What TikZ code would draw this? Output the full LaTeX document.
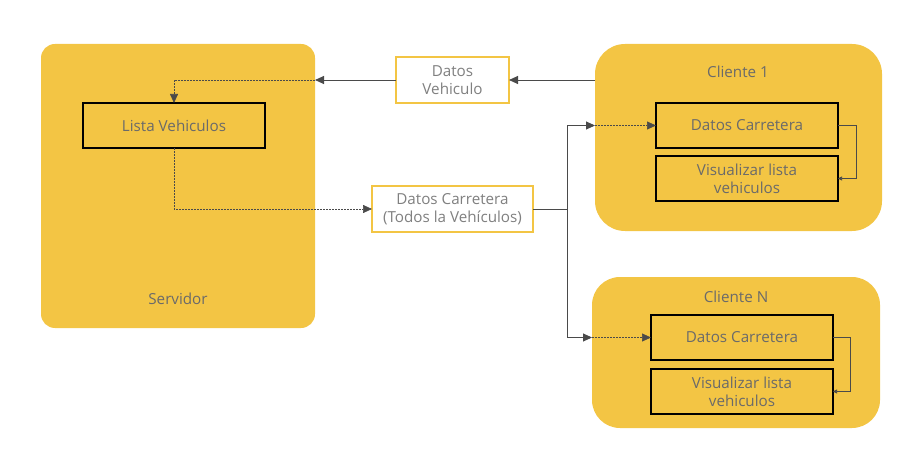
\documentclass[tikz,border=0pt]{standalone}
\usepackage{fontspec}
\setmainfont{Open Sans}
\usetikzlibrary{arrows.meta}
\definecolor{ybg}{HTML}{F3C544}
\definecolor{txt}{HTML}{6A6A6A}
\definecolor{ln}{HTML}{4A4A4A}
\begin{document}
\begin{tikzpicture}[x=1pt,y=-1pt,
  container/.style={fill=ybg, draw=none, anchor=north west, inner sep=0pt, outer sep=0pt},
  innerbox/.style={draw=black, line width=1.6pt, fill=ybg, anchor=north west, minimum width=182pt, minimum height=45pt, inner sep=0pt, outer sep=0pt, text=txt, align=center, font=\fontsize{15.2}{18}\selectfont},
  msg/.style={draw=ybg, line width=1.5pt, fill=white, anchor=north west, inner sep=0pt, outer sep=0pt, text=txt!85!white, align=center, font=\fontsize{15.2}{18}\selectfont},
  lbl/.style={text=txt, font=\fontsize{15.2}{18}\selectfont},
  sol/.style={draw=ln, line width=0.9pt, -{Triangle[length=9pt,width=8pt]}},
  dot/.style={draw=ln, line width=0.7pt, dash pattern=on 1.6pt off 1.4pt, -{Triangle[length=9pt,width=8pt]}},
  tiny/.style={draw=ln, line width=0.6pt, -{Triangle[length=4pt,width=4pt]}}
]
\useasboundingbox (0,0) rectangle (907,457);
% containers
\node[container, rounded corners=14pt, minimum width=274pt, minimum height=284pt] (srv) at (41,44) {};
\node[container, rounded corners=30pt, minimum width=287pt, minimum height=187pt] (c1) at (595,44) {};
\node[container, rounded corners=28pt, minimum width=288pt, minimum height=151pt] (cN) at (592,277) {};
\node[lbl] (srvlbl) at (178,299) {Servidor};
\node[lbl] (c1lbl) at (738,72) {Cliente 1};
\node[lbl] (cNlbl) at (736,297) {Cliente N};
% inner boxes
\node[innerbox] (lista) at (83,103) {Lista Vehiculos};
\node[innerbox] (c1dc) at (656,103) {Datos Carretera};
\node[innerbox] (c1vis) at (656,156) {Visualizar lista\\vehiculos};
\node[innerbox] (cNdc) at (651,315) {Datos Carretera};
\node[innerbox] (cNvis) at (651,369) {Visualizar lista\\vehiculos};
% messages
\node[msg, minimum width=113pt, minimum height=46pt] (dv) at (396,57) {Datos\\Vehiculo};
\node[msg, minimum width=161pt, minimum height=46pt] (dc) at (372,186) {Datos Carretera\\(Todos la Vehículos)};
% connectors
\coordinate (srvin) at (dv.west -| srv.east);
\coordinate (c1in) at (c1dc.west -| c1.west);
\coordinate (cNin) at (cNdc.west -| cN.west);
\coordinate (br) at ([xshift=34pt]dc.east);
\draw[sol] (dv.east -| c1.west) -- (dv.east);
\draw[sol] (dv.west) -- (srvin);
\draw[dot] (srvin) -| (lista.north);
\draw[dot] (lista.south) |- (dc.west);
\draw[draw=ln, line width=0.9pt] (dc.east) -- (br);
\draw[sol] (br) |- (c1in);
\draw[sol] (br) |- (cNin);
\draw[dot] (c1in) -- (c1dc.west);
\draw[dot] (cNin) -- (cNdc.west);
\draw[tiny] (c1dc.east) -- ++(18,0) |- (c1vis.east);
\draw[tiny] (cNdc.east) -- ++(17,0) |- (cNvis.east);
\end{tikzpicture}
\end{document}
